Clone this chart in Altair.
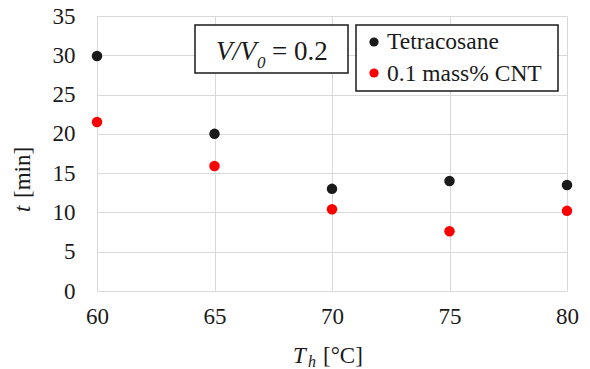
import altair as alt
import pandas as pd

# Heating temperature [°C] and time [min] for each material
temps = [60, 65, 70, 75, 80]
series = ["Tetracosane", "0.1 mass% CNT"]
t_tetracosane = [29.9, 20.0, 13.0, 14.0, 13.5]
t_cnt = [21.5, 15.9, 10.4, 7.6, 10.2]
colors = ["#1a1a1a", "#ff0000"]

x_ticks = [60, 65, 70, 75, 80]
y_ticks = [0, 5, 10, 15, 20, 25, 30, 35]

df = pd.DataFrame(
    {
        "Th": temps * 2,
        "t": t_tetracosane + t_cnt,
        "series": [series[0]] * len(temps) + [series[1]] * len(temps),
    }
)

FONT = "'Liberation Serif', 'Times New Roman', Times, serif"
INK = "#1a1a1a"
W, H = 470, 275
one = pd.DataFrame({"a": [0]})

points = (
    alt.Chart(df)
    .mark_circle(size=110, opacity=1)
    .encode(
        x=alt.X(
            "Th:Q",
            scale=alt.Scale(domain=[60, 80], nice=False, zero=False),
            axis=alt.Axis(values=x_ticks, title=None, labelPadding=14, labelFlush=False),
        ),
        y=alt.Y(
            "t:Q",
            scale=alt.Scale(domain=[0, 35], nice=False),
            axis=alt.Axis(values=y_ticks, title=None, labelPadding=22),
        ),
        color=alt.Color(
            "series:N",
            scale=alt.Scale(domain=series, range=colors),
            legend=None,
        ),
    )
)


def label(text, x, y, size, italic=False, angle=0):
    return alt.Chart(one).mark_text(
        text=text,
        font=FONT,
        fontSize=size,
        fontStyle="italic" if italic else "normal",
        align="left",
        baseline="alphabetic",
        angle=angle,
        color=INK,
    ).encode(x=alt.value(x), y=alt.value(y))


def frame(x1, x2, y1, y2):
    return alt.Chart(one).mark_rect(
        fill="white", stroke=INK, strokeWidth=1.5
    ).encode(x=alt.value(x1), x2=alt.value(x2), y=alt.value(y1), y2=alt.value(y2))


# Boxed annotation V/V0 = 0.2
annot = [
    frame(98, 251, 9, 57),
    label("V/V", 119, 44, 27, italic=True),
    label("0", 160, 52, 17, italic=True),
    label("= 0.2", 175, 44, 27),
]

# Legend: framed list of series with their marker colours
legend = [frame(259, 461, 9, 75)]
for i, (name, col) in enumerate(zip(series, colors)):
    legend.append(
        alt.Chart(one)
        .mark_circle(size=85, opacity=1, color=col)
        .encode(x=alt.value(277), y=alt.value(26 + 31 * i))
    )
    legend.append(label(name, 290, 33 + 32 * i, 23.5))

# Axis titles with italic symbols and subscripts
x_title = [
    label("T", 196, 347, 23, italic=True),
    label("h", 211, 351, 16, italic=True),
    label("[°C]", 226, 347, 23),
]
y_title = [
    label("t", -67, 196, 23, italic=True, angle=270),
    label("[min]", -67, 182, 23, angle=270),
]

chart = (
    alt.layer(points, *annot, *legend, *x_title, *y_title)
    .properties(
        width=W,
        height=H,
        autosize=alt.AutoSizeParams(type="none"),
        padding={"left": 97, "top": 16, "right": 23, "bottom": 78},
    )
    .configure_view(stroke=None)
    .configure_axis(
        grid=True,
        gridColor="#d9d9d9",
        gridWidth=1,
        domain=False,
        ticks=False,
        tickSize=0,
        labelFont=FONT,
        labelFontSize=23,
        labelColor=INK,
    )
)

chart.save("out.html", embed_options={"renderer": "svg", "actions": False})
